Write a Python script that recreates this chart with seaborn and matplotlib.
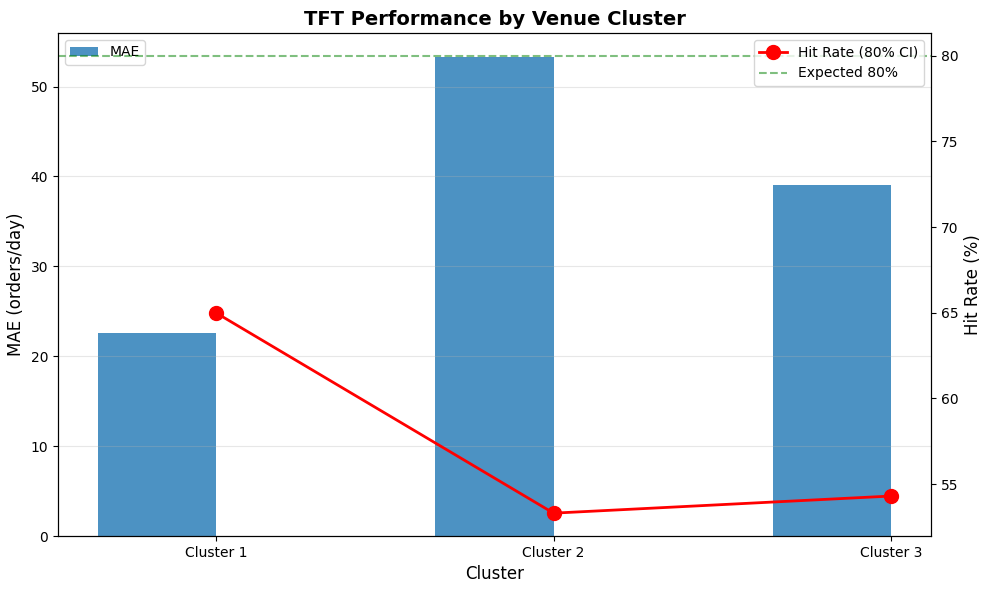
import numpy as np
import pandas as pd
import matplotlib
matplotlib.use('Agg')
import matplotlib.pyplot as plt
import seaborn as sns

clusters = ['Cluster 1', 'Cluster 2', 'Cluster 3']
mae = [22.6, 53.3, 39.0]
hit_rate = [65.0, 53.3, 54.3]
expected = 80

# keep matplotlib's plain look
plt.style.use('default')
plt.rcParams['font.family'] = ['DejaVu Sans']

x = np.arange(len(clusters))
width = 0.35

fig, ax1 = plt.subplots(figsize=(9.89, 5.9), dpi=100)

# MAE bars, shifted left of the tick
ax1.bar(x - width / 2, mae, width, label='MAE', color='#1f77b4', alpha=0.8)
ax1.set_xlabel('Cluster', fontsize=12)
ax1.set_ylabel('MAE (orders/day)', fontsize=12)
ax1.set_xticks(x)
ax1.set_xticklabels(clusters)
ax1.grid(axis='y', alpha=0.3)
ax1.legend(loc='upper left')

# Hit rate on the secondary axis
ax2 = ax1.twinx()
df = pd.DataFrame({'x': x, 'hit': hit_rate})
sns.lineplot(data=df, x='x', y='hit', ax=ax2, color='red', marker='o',
             markersize=10, linewidth=2, markeredgecolor='red',
             markeredgewidth=1, label='Hit Rate (80% CI)')
ax2.axhline(y=expected, color='green', linestyle='--', alpha=0.5, label='Expected 80%')
ax2.set_ylabel('Hit Rate (%)', fontsize=12)
ax2.set_xlabel('')
ax2.legend(loc='upper right')

ax1.set_title('TFT Performance by Venue Cluster', fontsize=14, fontweight='bold')

fig.subplots_adjust(left=0.0586, right=0.9414, top=0.9441, bottom=0.0915)
plt.savefig('out.png')
